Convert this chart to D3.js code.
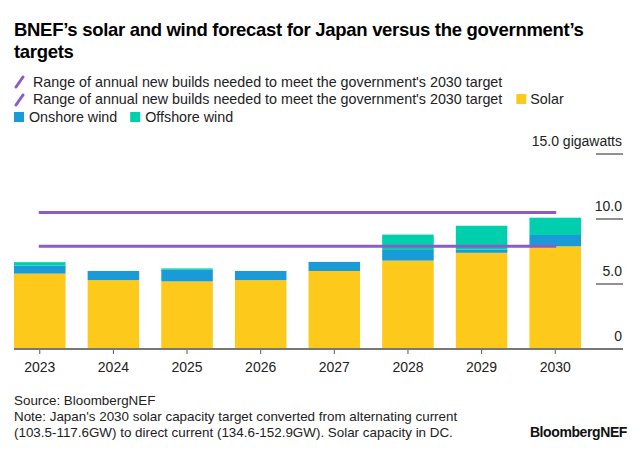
<!DOCTYPE html>
<html>
<head>
<meta charset="utf-8">
<script src="https://cdn.jsdelivr.net/npm/d3@7"></script>
<style>
  html, body { margin: 0; padding: 0; background: #fff; }
  svg { display: block; font-family: "Liberation Sans", Arial, sans-serif; }
</style>
</head>
<body>
<svg id="chart" width="640" height="451"></svg>
<script>
// ---- data ----
const years = ["2023", "2024", "2025", "2026", "2027", "2028", "2029", "2030"];
const solar = [5.8, 5.3, 5.2, 5.3, 6.0, 6.8, 7.4, 7.9];
const onshoreWind = [0.62, 0.7, 0.9, 0.7, 0.7, 0.82, 0.26, 0.87];
const offshoreWind = [0.26, 0, 0.1, 0, 0, 1.18, 1.82, 1.33];
const targetRange = [7.9, 10.5];
const yTicks = [0, 5, 10, 15];
const yTickLabels = ["0", "5.0", "10.0", "15.0 gigawatts"];
const seriesNames = ["Solar", "Onshore wind", "Offshore wind"];
const seriesColors = ["#fdca1c", "#1a9bd7", "#00cfae"];
const targetLabel = "Range of annual new builds needed to meet the government's 2030 target";
const purple = "#8b5cc6";

const svg = d3.select("#chart");

// ---- title ----
const title = svg.append("text")
  .attr("x", 14).attr("y", 36)
  .attr("font-size", 18.5).attr("font-weight", "bold").attr("fill", "#000")
  .attr("letter-spacing", "-0.3");
title.append("tspan").attr("x", 14).attr("y", 36).text("BNEF’s solar and wind forecast for Japan versus the government’s");
title.append("tspan").attr("x", 14).attr("y", 58).text("targets");

// ---- legend ----
const lg = svg.append("g").attr("font-size", 14.3).attr("fill", "#222");
function slash(x, y) {
  lg.append("line").attr("x1", x).attr("y1", y + 5).attr("x2", x + 7).attr("y2", y - 5)
    .attr("stroke", purple).attr("stroke-width", 3).attr("stroke-linecap", "round");
}
slash(16, 82);
lg.append("text").attr("x", 33).attr("y", 86.7).text(targetLabel);
slash(16, 100);
const t2 = lg.append("text").attr("x", 33).attr("y", 104.3).text(targetLabel);
const w2 = t2.node().getComputedTextLength();
let sx = 33 + w2 + 14;
lg.append("rect").attr("x", sx).attr("y", 94).attr("width", 10).attr("height", 10).attr("fill", seriesColors[0]);
lg.append("text").attr("x", sx + 14).attr("y", 104.3).text(seriesNames[0]);
lg.append("rect").attr("x", 14).attr("y", 112).attr("width", 10).attr("height", 10).attr("fill", seriesColors[1]);
const t3 = lg.append("text").attr("x", 29).attr("y", 122.3).text(seriesNames[1]);
const ox = 29 + t3.node().getComputedTextLength() + 13;
lg.append("rect").attr("x", ox).attr("y", 112).attr("width", 10).attr("height", 10).attr("fill", seriesColors[2]);
lg.append("text").attr("x", ox + 15).attr("y", 122.3).text(seriesNames[2]);

// ---- scales ----
const x = d3.scaleBand().domain(years).range([14, 581]).paddingInner(0.3).paddingOuter(0);
const y = d3.scaleLinear().domain([0, 15]).range([349, 154]);

// ---- stacked bars ----
const rows = years.map((yr, i) => ({ year: yr, Solar: solar[i], "Onshore wind": onshoreWind[i], "Offshore wind": offshoreWind[i] }));
const stack = d3.stack().keys(seriesNames)(rows);
svg.append("g").selectAll("g").data(stack).join("g")
  .attr("fill", (d, i) => seriesColors[i])
  .selectAll("rect").data(d => d).join("rect")
  .attr("x", d => x(d.data.year))
  .attr("width", x.bandwidth())
  .attr("y", d => y(d[1]))
  .attr("height", d => Math.max(0, y(d[0]) - y(d[1])));

// ---- target lines ----
svg.append("g").selectAll("line").data(targetRange).join("line")
  .attr("x1", x(years[0]) + x.bandwidth() / 2 - 1)
  .attr("x2", x(years[years.length - 1]) + x.bandwidth() / 2 + 1)
  .attr("y1", d => y(d)).attr("y2", d => y(d))
  .attr("stroke", purple).attr("stroke-width", 3);

// ---- right axis ----
const ya = svg.append("g");
ya.selectAll("line").data(yTicks.filter(v => v > 0)).join("line")
  .attr("x1", 596).attr("x2", 623)
  .attr("y1", d => y(d)).attr("y2", d => y(d))
  .attr("stroke", "#222").attr("stroke-width", 1);
ya.selectAll("text").data(yTicks).join("text")
  .attr("x", 622).attr("y", d => y(d) - 8)
  .attr("text-anchor", "end").attr("font-size", 14).attr("fill", "#222")
  .text((d, i) => yTickLabels[i]);

// ---- bottom axis ----
const xa = svg.append("g").attr("transform", "translate(0,349)")
  .call(d3.axisBottom(x).tickSize(5).tickPadding(8));
xa.select(".domain").remove();
xa.selectAll(".tick line").attr("stroke", "#555");
xa.selectAll(".tick text").attr("font-size", 14).attr("fill", "#222")
  .attr("font-family", "Liberation Sans, Arial, sans-serif");
svg.append("line").attr("x1", 14).attr("x2", 623).attr("y1", 349).attr("y2", 349)
  .attr("stroke", "#777").attr("stroke-width", 2);

// ---- footer ----
const ft = svg.append("g").attr("font-size", 13.4).attr("fill", "#222");
ft.append("text").attr("x", 14).attr("y", 405).text("Source: BloombergNEF");
ft.append("text").attr("x", 14).attr("y", 421).text("Note: Japan's 2030 solar capacity target converted from alternating current");
ft.append("text").attr("x", 14).attr("y", 437).text("(103.5-117.6GW) to direct current (134.6-152.9GW). Solar capacity in DC.");
svg.append("text").attr("x", 627).attr("y", 437).attr("text-anchor", "end")
  .attr("font-size", 14).attr("font-weight", "bold").attr("fill", "#111")
  .attr("letter-spacing", "-0.4").text("BloombergNEF");
</script>
</body>
</html>
